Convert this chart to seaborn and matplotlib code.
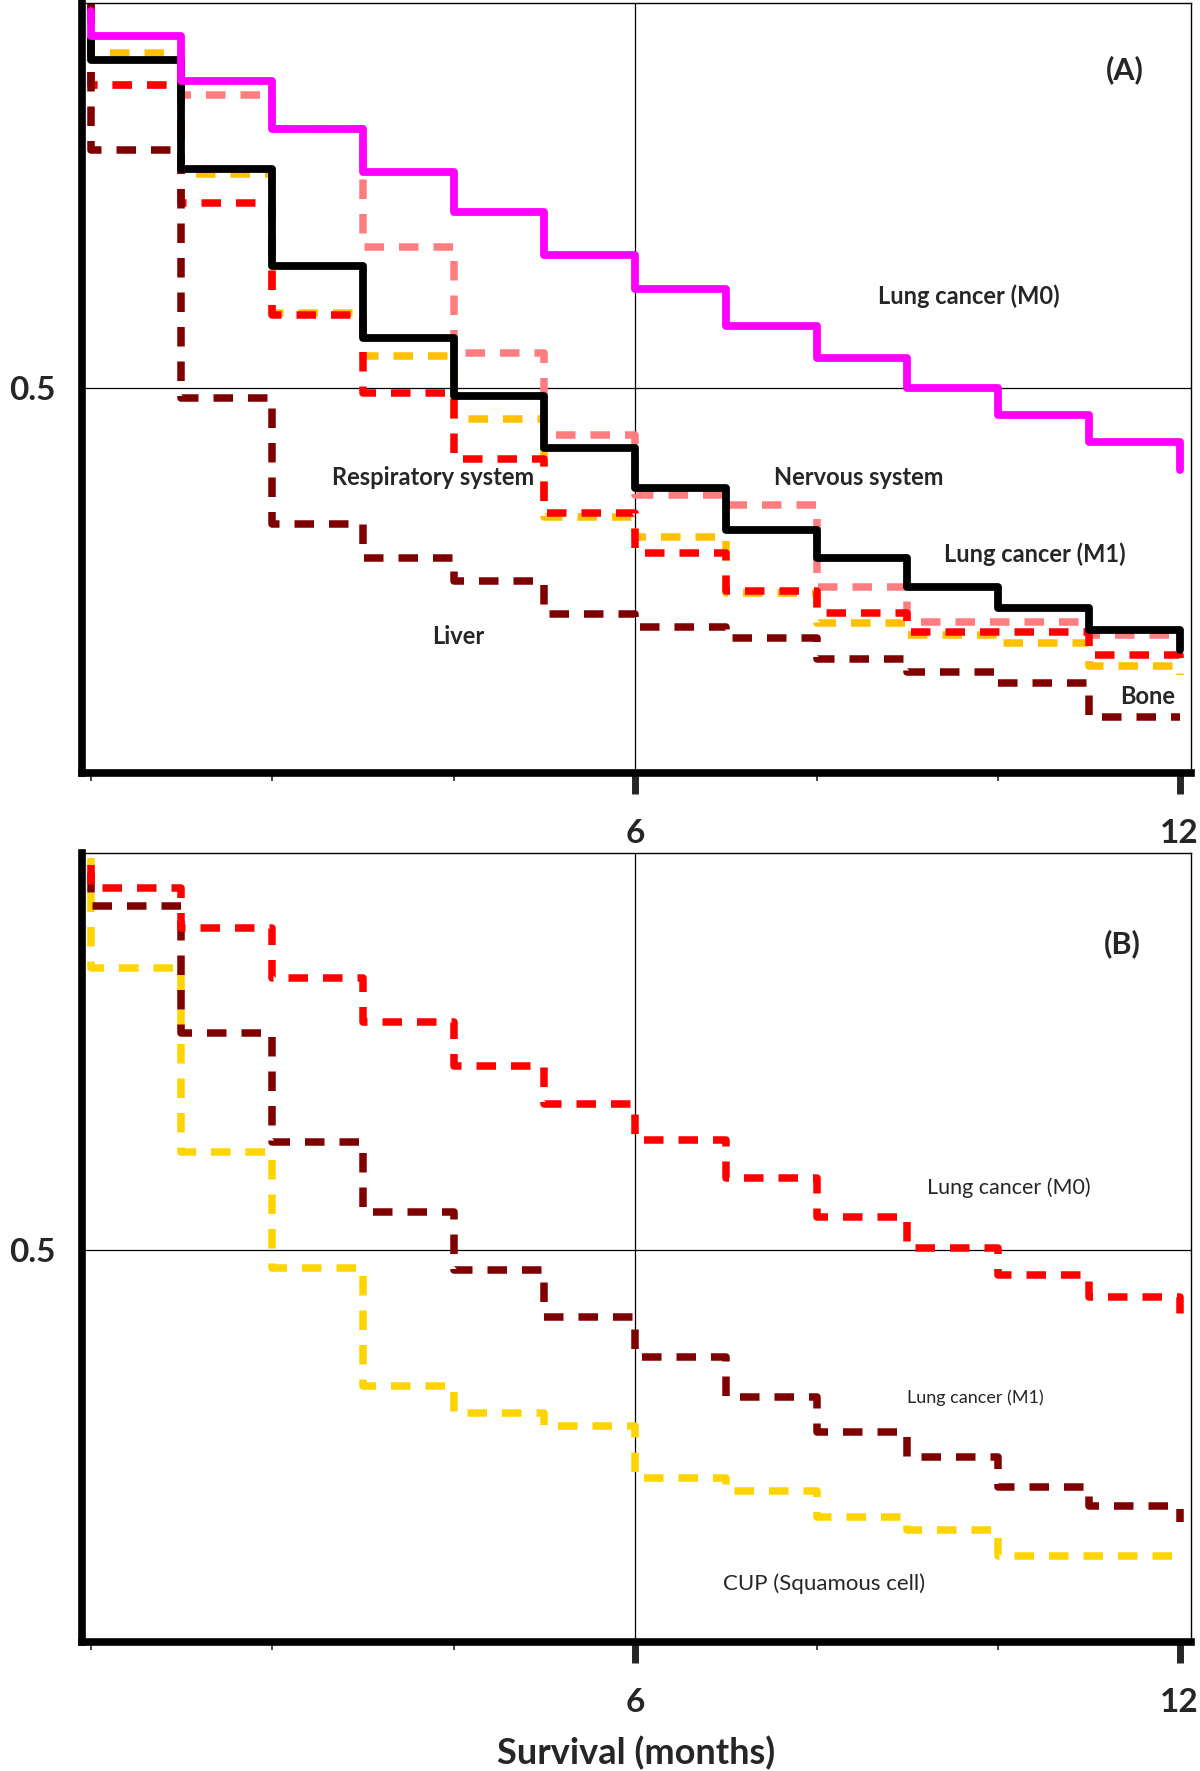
import seaborn as sns
import matplotlib.pyplot as plt
from matplotlib.ticker import FixedLocator

# survival curves (monthly steps, last value = drop at 12)
months = [0, 1, 2, 3, 4, 5, 6, 7, 8, 9, 10, 11, 12, 12]

# panel A
lung_m0_a = [0.990, 0.957, 0.899, 0.837, 0.781, 0.728, 0.673, 0.629, 0.580, 0.539, 0.500, 0.465, 0.430, 0.394]
lung_m1_a = [0.952, 0.926, 0.785, 0.659, 0.565, 0.489, 0.422, 0.370, 0.316, 0.279, 0.242, 0.214, 0.186, 0.160]
respiratory_a = [1.0, 0.894, 0.740, 0.595, 0.493, 0.408, 0.338, 0.286, 0.236, 0.208, 0.183, 0.183, 0.153, 0.149]
bone_a = [1.0, 0.935, 0.778, 0.597, 0.542, 0.460, 0.333, 0.306, 0.234, 0.195, 0.179, 0.169, 0.139, 0.127]
nervous_a = [1.0, 0.894, 0.881, 0.837, 0.683, 0.546, 0.439, 0.361, 0.348, 0.241, 0.196, 0.196, 0.179, 0.176]
liver_a = [1.0, 0.809, 0.487, 0.323, 0.279, 0.249, 0.206, 0.190, 0.175, 0.148, 0.131, 0.117, 0.073, 0.073]

# panel B
lung_m0_b = [0.991, 0.962, 0.911, 0.847, 0.791, 0.735, 0.686, 0.640, 0.592, 0.542, 0.503, 0.468, 0.440, 0.406]
lung_m1_b = [0.981, 0.938, 0.776, 0.638, 0.548, 0.474, 0.415, 0.364, 0.313, 0.268, 0.236, 0.198, 0.173, 0.153]
cup_b = [1.0, 0.860, 0.625, 0.477, 0.327, 0.292, 0.276, 0.209, 0.193, 0.159, 0.143, 0.110, 0.110, 0.107]

sns.set_style("white")
plt.rcParams['font.family'] = ['Lato', 'DejaVu Sans']

fig = plt.figure(figsize=(12, 17.71), dpi=100)
W, H = 1200, 1771
ax_a = fig.add_axes([82 / W, (H - 773) / H, 1109 / W, 770 / H])
ax_b = fig.add_axes([82 / W, (H - 1642) / H, 1109 / W, 789 / H])

dash = (0, (2.6, 2.0))


def curve(ax, vals, color, solid=False, lw=5.4):
    ls = '-' if solid else dash
    sns.lineplot(x=months, y=vals, ax=ax, estimator=None, sort=False,
                 drawstyle='steps-pre', color=color, lw=lw, linestyle=ls,
                 dash_capstyle='butt')


curve(ax_a, bone_a, '#FFC000')
curve(ax_a, nervous_a, '#FF7C80')
curve(ax_a, respiratory_a, '#FF0000')
curve(ax_a, liver_a, '#7F0000')
curve(ax_a, lung_m1_a, 'black', solid=True, lw=5.6)
curve(ax_a, lung_m0_a, '#FF00FF', solid=True, lw=5.6)

curve(ax_b, cup_b, '#FFD400')
curve(ax_b, lung_m1_b, '#7F0000')
curve(ax_b, lung_m0_b, '#FF0000')

for ax, ytop in [(ax_a, 1.0), (ax_b, 1.006)]:
    ax.set_xlim(-0.095, 12.126)
    ax.set_ylim(0, ytop)
    ax.axvline(6, color='black', lw=0.9, zorder=0)
    ax.axhline(0.5, color='black', lw=0.9, zorder=0)
    for side in ['top', 'right']:
        ax.spines[side].set_linewidth(1.0)
        ax.spines[side].set_color('black')
    for side in ['left', 'bottom']:
        ax.spines[side].set_linewidth(5.5)
        ax.spines[side].set_color('black')
    ax.xaxis.set_major_locator(FixedLocator([6, 12]))
    ax.xaxis.set_minor_locator(FixedLocator([0, 2, 4, 8, 10]))
    ax.set_xticklabels(['6', '12'])
    ax.set_yticks([0.5])
    ax.set_yticklabels(['0.5'])
    ax.tick_params(axis='x', which='major', direction='out', length=15, width=5,
                   pad=18, labelsize=24, bottom=True)
    ax.tick_params(axis='x', which='minor', direction='out', length=6, width=1.2,
                   bottom=True)
    ax.tick_params(axis='y', length=0, pad=19, labelsize=24)
    for lab in ax.get_xticklabels() + ax.get_yticklabels():
        lab.set_fontweight('bold')
    ax.set_xlabel('')
    ax.set_ylabel('')

# panel A labels
ax_a.text(11.40, 0.913, '(A)', fontsize=22, fontweight='bold', ha='center', va='center')
ax_a.text(9.68, 0.619, 'Lung cancer (M0)', fontsize=17, fontweight='bold', ha='center', va='center')
ax_a.text(3.77, 0.384, 'Respiratory system', fontsize=17, fontweight='bold', ha='center', va='center')
ax_a.text(8.47, 0.384, 'Nervous system', fontsize=17, fontweight='bold', ha='center', va='center')
ax_a.text(10.40, 0.284, 'Lung cancer (M1)', fontsize=17, fontweight='bold', ha='center', va='center')
ax_a.text(4.05, 0.177, 'Liver', fontsize=17, fontweight='bold', ha='center', va='center')
ax_a.text(11.65, 0.100, 'Bone', fontsize=17, fontweight='bold', ha='center', va='center')

# panel B labels
ax_b.text(11.37, 0.890, '(B)', fontsize=22, fontweight='bold', ha='center', va='center')
ax_b.text(10.12, 0.579, 'Lung cancer (M0)', fontsize=15.5, ha='center', va='center')
ax_b.text(9.75, 0.312, 'Lung cancer (M1)', fontsize=13, ha='center', va='center')
ax_b.text(8.08, 0.074, 'CUP (Squamous cell)', fontsize=16, ha='center', va='center')

ax_b.set_xlabel('Survival (months)', fontsize=26, fontweight='bold', labelpad=14)

fig.savefig('out.png', dpi=100)
